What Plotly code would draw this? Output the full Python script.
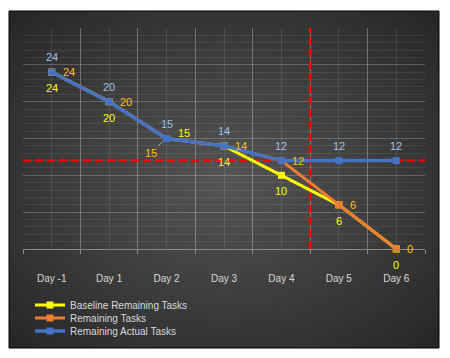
import zlib, struct, base64
import plotly.graph_objects as go

# ---- data ----
days = ["Day -1", "Day 1", "Day 2", "Day 3", "Day 4", "Day 5", "Day 6"]
baseline = [24, 20, 15, 14, 10, 6, 0]
remaining = [24, 20, 15, 14, 12, 6, 0]
actual = [24, 20, 15, 14, 12, 12, 12]
target_level = 12
cutoff_pos = 4.5  # between Day 4 and Day 5

x = list(range(len(days)))

# ---- background gradient image (radial) ----
def make_png(w, h, c_center, c_edge):
    rows = []
    cx, cy = (w - 1) / 2, (h - 1) / 2
    for j in range(h):
        row = bytearray([0])
        for i in range(w):
            d = (((i - cx) / cx) ** 2 + ((j - cy) / cy) ** 2) ** 0.5 / (2 ** 0.5)
            d = min(1.0, d)
            v = int(round(c_center + (c_edge - c_center) * d))
            row += bytes([v, v, v])
        rows.append(bytes(row))
    raw = b"".join(rows)

    def chunk(t, dat):
        c = struct.pack(">I", len(dat)) + t + dat
        return c + struct.pack(">I", zlib.crc32(t + dat) & 0xFFFFFFFF)

    png = (b"\x89PNG\r\n\x1a\n"
           + chunk(b"IHDR", struct.pack(">IIBBBBB", w, h, 8, 2, 0, 0, 0))
           + chunk(b"IDAT", zlib.compress(raw))
           + chunk(b"IEND", b""))
    return "data:image/png;base64," + base64.b64encode(png).decode()

bg_src = make_png(86, 65, 0x55, 0x27)

# ---- layout geometry (pixels) ----
W, H = 450, 358
pl, pr, pt, pb = 23, 425, 28, 249
pw, ph = pr - pl, pb - pt
def px(xp): return (xp - pl) / pw
def py(yp): return (pb - yp) / ph

fr_x0, fr_x1, fr_y0, fr_y1 = 9, 439, 11, 348

FONT = "Liberation Sans, Arial, sans-serif"

fig = go.Figure()

fig.add_trace(go.Scatter(
    x=x, y=baseline, mode="lines+markers", name="Baseline Remaining Tasks",
    line=dict(color="#FFFF00", width=3), marker=dict(symbol="square", size=7, color="#FFFF00"),
    cliponaxis=False, legend="legend"))
fig.add_trace(go.Scatter(
    x=x, y=remaining, mode="lines+markers", name="Remaining Tasks",
    line=dict(color="#ED7D31", width=3), marker=dict(symbol="square", size=7, color="#ED7D31"),
    cliponaxis=False, legend="legend2"))
fig.add_trace(go.Scatter(
    x=x, y=actual, mode="lines+markers", name="Remaining Actual Tasks",
    line=dict(color="#4472C4", width=3.5), marker=dict(symbol="square", size=7, color="#4472C4"),
    cliponaxis=False, legend="legend3"))

# ---- data labels (annotations anchored at data points) ----
annotations = []
lab_font = lambda c: dict(color=c, size=11, family=FONT)
for i, v in enumerate(actual):
    annotations.append(dict(x=x[i], y=v, xref="x", yref="y", text=str(v), showarrow=False,
                            xanchor="center", yanchor="middle", yshift=15, font=lab_font("#9DC3E6")))
for i, v in enumerate(baseline):
    if i == 2:
        annotations.append(dict(x=x[i], y=v, xref="x", yref="y", text=str(v), showarrow=False,
                                xanchor="left", yanchor="middle", xshift=9, yshift=6,
                                font=lab_font("#FFFF00")))
    else:
        annotations.append(dict(x=x[i], y=v, xref="x", yref="y", text=str(v), showarrow=False,
                                xanchor="center", yanchor="middle", yshift=-16,
                                font=lab_font("#FFFF00")))
for i, v in enumerate(remaining):
    if i == 2:
        annotations.append(dict(x=x[i], y=v, xref="x", yref="y", text=str(v), showarrow=True,
                                ax=-16, ay=14, arrowhead=0, arrowwidth=1, arrowcolor="#A6A6A6",
                                standoff=4, xanchor="center", yanchor="middle",
                                font=lab_font("#FFC000")))
    else:
        annotations.append(dict(x=x[i], y=v, xref="x", yref="y", text=str(v), showarrow=False,
                                xanchor="left", yanchor="middle", xshift=9,
                                font=lab_font("#FFC000")))

shapes = [
    dict(type="line", xref="x", yref="y", x0=-0.5, x1=len(days) - 0.5, y0=target_level, y1=target_level,
         line=dict(color="#FF0000", width=2.5, dash="8px,4px"), layer="between"),
    dict(type="line", xref="x", yref="y", x0=cutoff_pos, x1=cutoff_pos, y0=0, y1=30,
         line=dict(color="#FF0000", width=2.5, dash="8px,4px"), layer="between"),
    dict(type="rect", xref="paper", yref="paper", x0=px(fr_x0), x1=px(fr_x1), y0=py(fr_y1), y1=py(fr_y0),
         line=dict(color="#000000", width=1), fillcolor="rgba(0,0,0,0)", layer="above"),
]

leg_common = dict(font=dict(color="#D9D9D9", size=10, family=FONT), bgcolor="rgba(0,0,0,0)",
                  xanchor="left", yanchor="middle", itemwidth=30)
fig.update_layout(
    width=W, height=H,
    margin=dict(l=pl, r=W - pr, t=pt, b=H - pb, pad=0),
    paper_bgcolor="#FFFFFF", plot_bgcolor="rgba(0,0,0,0)",
    showlegend=True,
    legend=dict(x=px(30), y=py(305), **leg_common),
    legend2=dict(x=px(30), y=py(318), **leg_common),
    legend3=dict(x=px(30), y=py(331), **leg_common),
    images=[dict(source=bg_src, xref="paper", yref="paper", x=px(fr_x0), y=py(fr_y0),
                 sizex=px(fr_x1) - px(fr_x0), sizey=py(fr_y0) - py(fr_y1),
                 xanchor="left", yanchor="top", sizing="stretch", layer="below")],
    shapes=shapes,
    annotations=annotations,
    xaxis=dict(range=[-0.5, len(days) - 0.5], tickmode="array", tickvals=x, ticktext=days,
               showgrid=True, gridcolor="rgba(255,255,255,0.10)", gridwidth=1,
               ticks="", ticklabelstandoff=20,
               tickfont=dict(color="#D9D9D9", size=10, family=FONT),
               showline=True, linecolor="#8A8A8A", linewidth=1, zeroline=False,
               minor=dict(tickmode="array", tickvals=[i - 0.5 for i in range(len(days) + 1)],
                          showgrid=True, gridcolor="rgba(255,255,255,0.30)", gridwidth=1,
                          ticks="outside", ticklen=4, tickcolor="#8A8A8A")),
    yaxis=dict(range=[0, 30], tickmode="linear", tick0=0, dtick=5, showticklabels=False,
               showgrid=True, gridcolor="rgba(255,255,255,0.22)", gridwidth=1, zeroline=False,
               ticks="",
               minor=dict(tick0=0, dtick=1, showgrid=True, gridcolor="rgba(255,255,255,0.08)", gridwidth=1)),
)

fig.write_html("out.html", config={"displayModeBar": False},
               post_script="document.body.style.margin='0';")
